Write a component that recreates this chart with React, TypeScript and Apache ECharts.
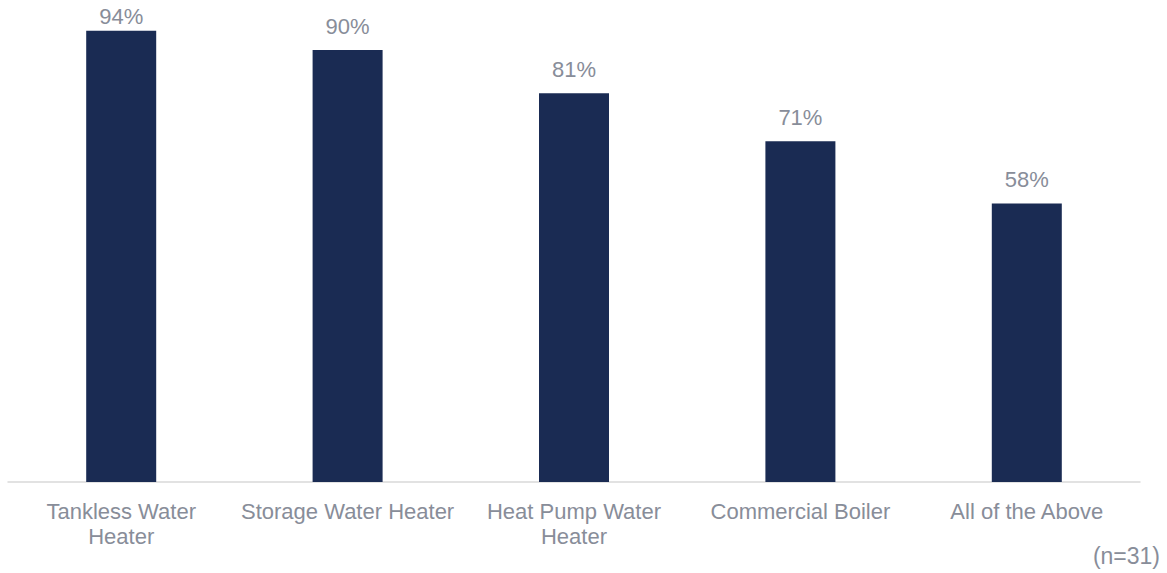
import React, { useEffect, useRef } from "react";
import * as echarts from "echarts";

const categories = [
  "Tankless Water\nHeater",
  "Storage Water Heater",
  "Heat Pump Water\nHeater",
  "Commercial Boiler",
  "All of the Above",
];
const values = [94, 90, 81, 71, 58];
const sampleNote = "(n=31)";

const BAR = "#1a2b53";
const TEXT = "#888d99";
const FONT = "'Liberation Sans', Arial, sans-serif";

export default function App() {
  const ref = useRef<HTMLDivElement>(null);

  useEffect(() => {
    if (!ref.current) return;
    const chart = echarts.init(ref.current, null, { renderer: "svg" });
    // The tallest bar sits near the top edge, so its label is tucked in closer.
    const barData = values.map((v, i) =>
      i === 0 ? { value: v, label: { distance: 3 } } : v
    );
    chart.setOption({
      animation: false,
      grid: { left: 8, right: 27, top: 2, bottom: 91, containLabel: false },
      xAxis: {
        type: "category",
        data: categories,
        axisLine: { lineStyle: { color: "#d9d9d9", width: 1.5 } },
        axisTick: { show: false },
        axisLabel: {
          color: TEXT,
          fontFamily: FONT,
          fontSize: 22,
          lineHeight: 25,
          margin: 17,
          interval: 0,
        },
      },
      yAxis: {
        type: "value",
        min: 0,
        max: 100,
        show: false,
        splitLine: { show: false },
      },
      series: [
        {
          type: "bar",
          data: barData,
          barWidth: 70,
          itemStyle: { color: BAR },
          label: {
            show: true,
            position: "top",
            distance: 13,
            formatter: "{c}%",
            color: TEXT,
            fontFamily: FONT,
            fontSize: 22,
          },
        },
      ],
      graphic: [
        {
          type: "text",
          right: 7,
          top: 544,
          style: {
            text: sampleNote,
            fill: TEXT,
            font: `23px ${FONT}`,
          },
        },
      ],
    });
    return () => chart.dispose();
  }, []);

  return (
    <div
      ref={ref}
      style={{ position: "absolute", left: 0, top: 0, width: 1167, height: 573 }}
    />
  );
}
